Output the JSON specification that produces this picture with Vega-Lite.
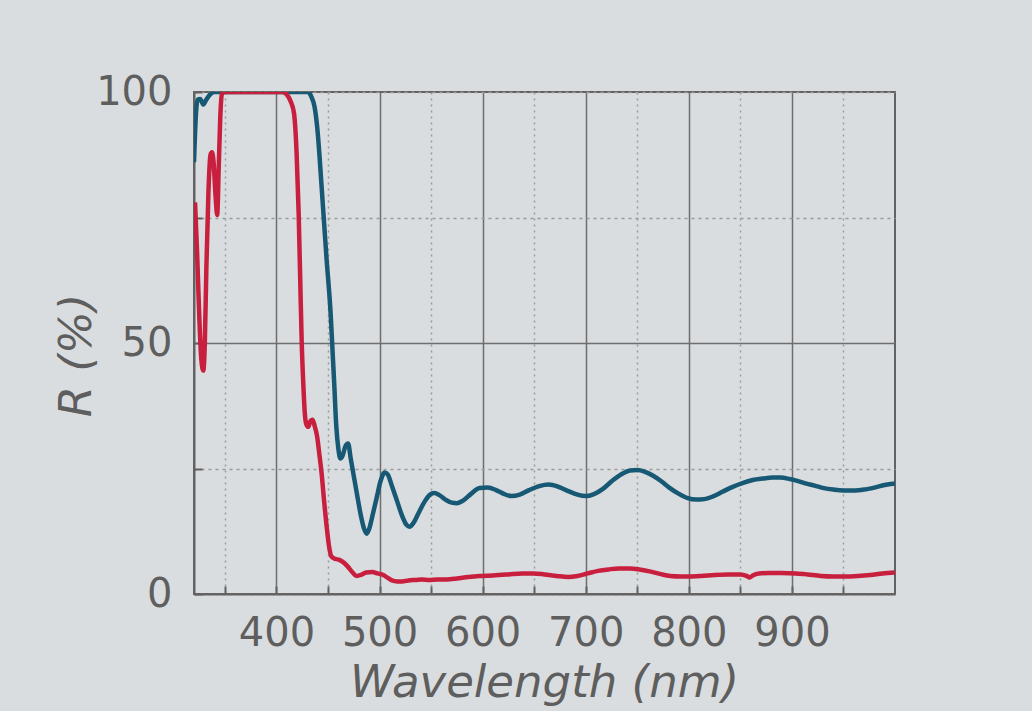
{
  "$schema": "https://vega.github.io/schema/vega-lite/v6.json",
  "width": 701,
  "height": 502,
  "autosize": {"type": "none"},
  "padding": {"left": 194, "top": 92, "right": 137, "bottom": 117},
  "background": "#dadddf",
  "config": {
    "view": {"stroke": "#626262", "strokeWidth": 2},
    "axis": {
      "labelFont": "DejaVu Sans",
      "labelFontSize": 40,
      "labelColor": "#5e5e5e",
      "titleFont": "DejaVu Sans",
      "titleFontSize": 45,
      "titleFontStyle": "italic",
      "titleFontWeight": "normal",
      "titleColor": "#5e5e5e",
      "domainColor": "#626262",
      "domainWidth": 2,
      "tickColor": "#626262",
      "tickWidth": 2,
      "tickSize": -8
    }
  },
  "data": {
    "values": [
      {"wl": 320, "R": 86, "s": "blue"},
      {"wl": 322, "R": 96, "s": "blue"},
      {"wl": 323.5, "R": 98.5, "s": "blue"},
      {"wl": 326, "R": 98.6, "s": "blue"},
      {"wl": 329, "R": 97.5, "s": "blue"},
      {"wl": 332, "R": 98.5, "s": "blue"},
      {"wl": 336, "R": 99.6, "s": "blue"},
      {"wl": 340, "R": 100, "s": "blue"},
      {"wl": 430, "R": 100, "s": "blue"},
      {"wl": 434, "R": 99, "s": "blue"},
      {"wl": 437, "R": 97, "s": "blue"},
      {"wl": 439.5, "R": 93, "s": "blue"},
      {"wl": 441.5, "R": 88, "s": "blue"},
      {"wl": 443.5, "R": 82, "s": "blue"},
      {"wl": 445.5, "R": 76, "s": "blue"},
      {"wl": 448.5, "R": 67, "s": "blue"},
      {"wl": 452.5, "R": 56, "s": "blue"},
      {"wl": 454.5, "R": 48, "s": "blue"},
      {"wl": 456, "R": 42, "s": "blue"},
      {"wl": 458, "R": 33.5, "s": "blue"},
      {"wl": 460, "R": 29, "s": "blue"},
      {"wl": 462, "R": 27, "s": "blue"},
      {"wl": 464, "R": 27.5, "s": "blue"},
      {"wl": 467, "R": 29.5, "s": "blue"},
      {"wl": 469.5, "R": 30, "s": "blue"},
      {"wl": 472, "R": 27, "s": "blue"},
      {"wl": 475, "R": 23.5, "s": "blue"},
      {"wl": 478, "R": 20, "s": "blue"},
      {"wl": 482, "R": 15.5, "s": "blue"},
      {"wl": 485, "R": 13, "s": "blue"},
      {"wl": 487.5, "R": 12, "s": "blue"},
      {"wl": 490, "R": 13, "s": "blue"},
      {"wl": 493, "R": 15.5, "s": "blue"},
      {"wl": 497, "R": 19, "s": "blue"},
      {"wl": 501, "R": 22.5, "s": "blue"},
      {"wl": 505, "R": 24.2, "s": "blue"},
      {"wl": 508, "R": 23.8, "s": "blue"},
      {"wl": 512, "R": 21.5, "s": "blue"},
      {"wl": 517, "R": 18.5, "s": "blue"},
      {"wl": 522, "R": 15.5, "s": "blue"},
      {"wl": 526, "R": 13.8, "s": "blue"},
      {"wl": 529, "R": 13.4, "s": "blue"},
      {"wl": 533, "R": 14.2, "s": "blue"},
      {"wl": 538, "R": 16.2, "s": "blue"},
      {"wl": 544, "R": 18.5, "s": "blue"},
      {"wl": 549, "R": 19.8, "s": "blue"},
      {"wl": 553, "R": 20.1, "s": "blue"},
      {"wl": 558, "R": 19.7, "s": "blue"},
      {"wl": 564, "R": 18.8, "s": "blue"},
      {"wl": 570, "R": 18.2, "s": "blue"},
      {"wl": 575, "R": 18.1, "s": "blue"},
      {"wl": 581, "R": 18.6, "s": "blue"},
      {"wl": 589, "R": 20, "s": "blue"},
      {"wl": 597, "R": 21.1, "s": "blue"},
      {"wl": 605, "R": 21.2, "s": "blue"},
      {"wl": 613, "R": 20.7, "s": "blue"},
      {"wl": 620, "R": 20, "s": "blue"},
      {"wl": 628, "R": 19.5, "s": "blue"},
      {"wl": 636, "R": 19.8, "s": "blue"},
      {"wl": 645, "R": 20.7, "s": "blue"},
      {"wl": 655, "R": 21.5, "s": "blue"},
      {"wl": 664, "R": 21.8, "s": "blue"},
      {"wl": 673, "R": 21.4, "s": "blue"},
      {"wl": 683, "R": 20.5, "s": "blue"},
      {"wl": 692, "R": 19.8, "s": "blue"},
      {"wl": 700, "R": 19.5, "s": "blue"},
      {"wl": 708, "R": 19.9, "s": "blue"},
      {"wl": 717, "R": 21, "s": "blue"},
      {"wl": 726, "R": 22.6, "s": "blue"},
      {"wl": 735, "R": 23.9, "s": "blue"},
      {"wl": 743, "R": 24.6, "s": "blue"},
      {"wl": 750, "R": 24.7, "s": "blue"},
      {"wl": 757, "R": 24.4, "s": "blue"},
      {"wl": 765, "R": 23.6, "s": "blue"},
      {"wl": 773, "R": 22.5, "s": "blue"},
      {"wl": 781, "R": 21.2, "s": "blue"},
      {"wl": 790, "R": 20, "s": "blue"},
      {"wl": 799, "R": 19.1, "s": "blue"},
      {"wl": 807, "R": 18.8, "s": "blue"},
      {"wl": 815, "R": 18.9, "s": "blue"},
      {"wl": 823, "R": 19.4, "s": "blue"},
      {"wl": 832, "R": 20.3, "s": "blue"},
      {"wl": 842, "R": 21.3, "s": "blue"},
      {"wl": 852, "R": 22.1, "s": "blue"},
      {"wl": 862, "R": 22.7, "s": "blue"},
      {"wl": 872, "R": 23, "s": "blue"},
      {"wl": 881, "R": 23.2, "s": "blue"},
      {"wl": 889, "R": 23.2, "s": "blue"},
      {"wl": 898, "R": 22.9, "s": "blue"},
      {"wl": 906, "R": 22.5, "s": "blue"},
      {"wl": 914, "R": 22, "s": "blue"},
      {"wl": 922, "R": 21.6, "s": "blue"},
      {"wl": 931, "R": 21.1, "s": "blue"},
      {"wl": 940, "R": 20.8, "s": "blue"},
      {"wl": 950, "R": 20.6, "s": "blue"},
      {"wl": 960, "R": 20.6, "s": "blue"},
      {"wl": 970, "R": 20.8, "s": "blue"},
      {"wl": 980, "R": 21.2, "s": "blue"},
      {"wl": 990, "R": 21.7, "s": "blue"},
      {"wl": 1000, "R": 22, "s": "blue"},
      {"wl": 321, "R": 78, "s": "red"},
      {"wl": 323, "R": 68, "s": "red"},
      {"wl": 325, "R": 56, "s": "red"},
      {"wl": 327, "R": 47, "s": "red"},
      {"wl": 329, "R": 44.5, "s": "red"},
      {"wl": 330.5, "R": 50, "s": "red"},
      {"wl": 332, "R": 65, "s": "red"},
      {"wl": 334, "R": 80, "s": "red"},
      {"wl": 336, "R": 87.5, "s": "red"},
      {"wl": 337.5, "R": 88, "s": "red"},
      {"wl": 339, "R": 86, "s": "red"},
      {"wl": 341, "R": 79, "s": "red"},
      {"wl": 342.5, "R": 75.5, "s": "red"},
      {"wl": 344, "R": 85, "s": "red"},
      {"wl": 345.5, "R": 95, "s": "red"},
      {"wl": 347, "R": 99.5, "s": "red"},
      {"wl": 349, "R": 100, "s": "red"},
      {"wl": 406, "R": 100, "s": "red"},
      {"wl": 410, "R": 99.5, "s": "red"},
      {"wl": 414, "R": 98, "s": "red"},
      {"wl": 417, "R": 95.8, "s": "red"},
      {"wl": 419.5, "R": 88, "s": "red"},
      {"wl": 421.5, "R": 76, "s": "red"},
      {"wl": 423, "R": 63, "s": "red"},
      {"wl": 424.5, "R": 50, "s": "red"},
      {"wl": 426, "R": 42, "s": "red"},
      {"wl": 427.5, "R": 36, "s": "red"},
      {"wl": 429, "R": 33.8, "s": "red"},
      {"wl": 431, "R": 33.3, "s": "red"},
      {"wl": 433, "R": 34.5, "s": "red"},
      {"wl": 435, "R": 34.7, "s": "red"},
      {"wl": 437, "R": 33.5, "s": "red"},
      {"wl": 439.5, "R": 31.3, "s": "red"},
      {"wl": 441.5, "R": 28, "s": "red"},
      {"wl": 443.8, "R": 24, "s": "red"},
      {"wl": 446, "R": 19, "s": "red"},
      {"wl": 448.7, "R": 13.4, "s": "red"},
      {"wl": 451, "R": 9.5, "s": "red"},
      {"wl": 453.5, "R": 7.4, "s": "red"},
      {"wl": 457, "R": 7, "s": "red"},
      {"wl": 461, "R": 6.8, "s": "red"},
      {"wl": 465, "R": 6.3, "s": "red"},
      {"wl": 469, "R": 5.5, "s": "red"},
      {"wl": 473, "R": 4.5, "s": "red"},
      {"wl": 477.8, "R": 3.6, "s": "red"},
      {"wl": 482, "R": 3.8, "s": "red"},
      {"wl": 487, "R": 4.3, "s": "red"},
      {"wl": 493, "R": 4.4, "s": "red"},
      {"wl": 498, "R": 4.1, "s": "red"},
      {"wl": 503.6, "R": 3.8, "s": "red"},
      {"wl": 508, "R": 3.2, "s": "red"},
      {"wl": 512, "R": 2.7, "s": "red"},
      {"wl": 517, "R": 2.5, "s": "red"},
      {"wl": 522, "R": 2.5, "s": "red"},
      {"wl": 528, "R": 2.7, "s": "red"},
      {"wl": 535, "R": 2.8, "s": "red"},
      {"wl": 541, "R": 2.9, "s": "red"},
      {"wl": 548, "R": 2.8, "s": "red"},
      {"wl": 556, "R": 2.9, "s": "red"},
      {"wl": 565, "R": 2.9, "s": "red"},
      {"wl": 575, "R": 3.1, "s": "red"},
      {"wl": 586, "R": 3.4, "s": "red"},
      {"wl": 597, "R": 3.6, "s": "red"},
      {"wl": 610, "R": 3.7, "s": "red"},
      {"wl": 625, "R": 3.9, "s": "red"},
      {"wl": 638, "R": 4.1, "s": "red"},
      {"wl": 649, "R": 4.1, "s": "red"},
      {"wl": 660, "R": 3.9, "s": "red"},
      {"wl": 672, "R": 3.6, "s": "red"},
      {"wl": 683, "R": 3.4, "s": "red"},
      {"wl": 692, "R": 3.6, "s": "red"},
      {"wl": 702, "R": 4.1, "s": "red"},
      {"wl": 712, "R": 4.6, "s": "red"},
      {"wl": 722, "R": 4.9, "s": "red"},
      {"wl": 732, "R": 5.1, "s": "red"},
      {"wl": 743, "R": 5.1, "s": "red"},
      {"wl": 752, "R": 4.9, "s": "red"},
      {"wl": 762, "R": 4.5, "s": "red"},
      {"wl": 772, "R": 4, "s": "red"},
      {"wl": 782, "R": 3.6, "s": "red"},
      {"wl": 792, "R": 3.5, "s": "red"},
      {"wl": 800, "R": 3.5, "s": "red"},
      {"wl": 812, "R": 3.6, "s": "red"},
      {"wl": 825, "R": 3.8, "s": "red"},
      {"wl": 838, "R": 3.9, "s": "red"},
      {"wl": 850, "R": 3.9, "s": "red"},
      {"wl": 856, "R": 3.6, "s": "red"},
      {"wl": 859, "R": 3.3, "s": "red"},
      {"wl": 862, "R": 3.7, "s": "red"},
      {"wl": 868, "R": 4.1, "s": "red"},
      {"wl": 878, "R": 4.2, "s": "red"},
      {"wl": 890, "R": 4.2, "s": "red"},
      {"wl": 904, "R": 4.1, "s": "red"},
      {"wl": 915, "R": 3.9, "s": "red"},
      {"wl": 928, "R": 3.6, "s": "red"},
      {"wl": 940, "R": 3.5, "s": "red"},
      {"wl": 952, "R": 3.5, "s": "red"},
      {"wl": 964, "R": 3.6, "s": "red"},
      {"wl": 976, "R": 3.8, "s": "red"},
      {"wl": 988, "R": 4.1, "s": "red"},
      {"wl": 1000, "R": 4.3, "s": "red"}
    ]
  },
  "mark": {"type": "line", "strokeWidth": 4.5, "clip": true, "interpolate": "monotone"},
  "encoding": {
    "x": {
      "field": "wl",
      "type": "quantitative",
      "scale": {"domain": [320, 1000], "nice": false, "zero": false},
      "axis": {
        "values": [350, 400, 450, 500, 550, 600, 650, 700, 750, 800, 850, 900, 950],
        "labelExpr": "datum.value % 100 == 0 ? datum.label : ''",
        "labelPadding": 27,
        "labelBaseline": "top",
        "grid": true,
        "gridColor": {"condition": {"test": "datum.value % 100 == 0", "value": "#6e6e6e"}, "value": "#9a9a9a"},
        "gridDash": {"condition": {"test": "datum.value % 100 == 0", "value": []}, "value": [2, 4]},
        "gridWidth": 1.5,
        "title": "Wavelength (nm)",
        "titleX": 350,
        "titleY": 102,
        "titleAlign": "center",
        "titleBaseline": "alphabetic"
      }
    },
    "y": {
      "field": "R",
      "type": "quantitative",
      "scale": {"domain": [0, 100], "nice": false},
      "axis": {
        "values": [0, 25, 50, 75, 100],
        "labelExpr": "datum.value % 50 == 0 ? datum.label : ''",
        "labelPadding": 30,
        "grid": true,
        "gridColor": {"condition": {"test": "datum.value == 50", "value": "#6e6e6e"}, "value": "#9a9a9a"},
        "gridDash": {"condition": {"test": "datum.value == 50", "value": []}, "value": [3, 4]},
        "gridWidth": 1.5,
        "title": "R (%)",
        "titleAngle": -90,
        "titleX": -104,
        "titleY": 263,
        "titleAlign": "center",
        "titleBaseline": "alphabetic"
      }
    },
    "color": {
      "field": "s",
      "type": "nominal",
      "scale": {"domain": ["blue", "red"], "range": ["#175874", "#c81f3e"]},
      "legend": null
    }
  }
}
